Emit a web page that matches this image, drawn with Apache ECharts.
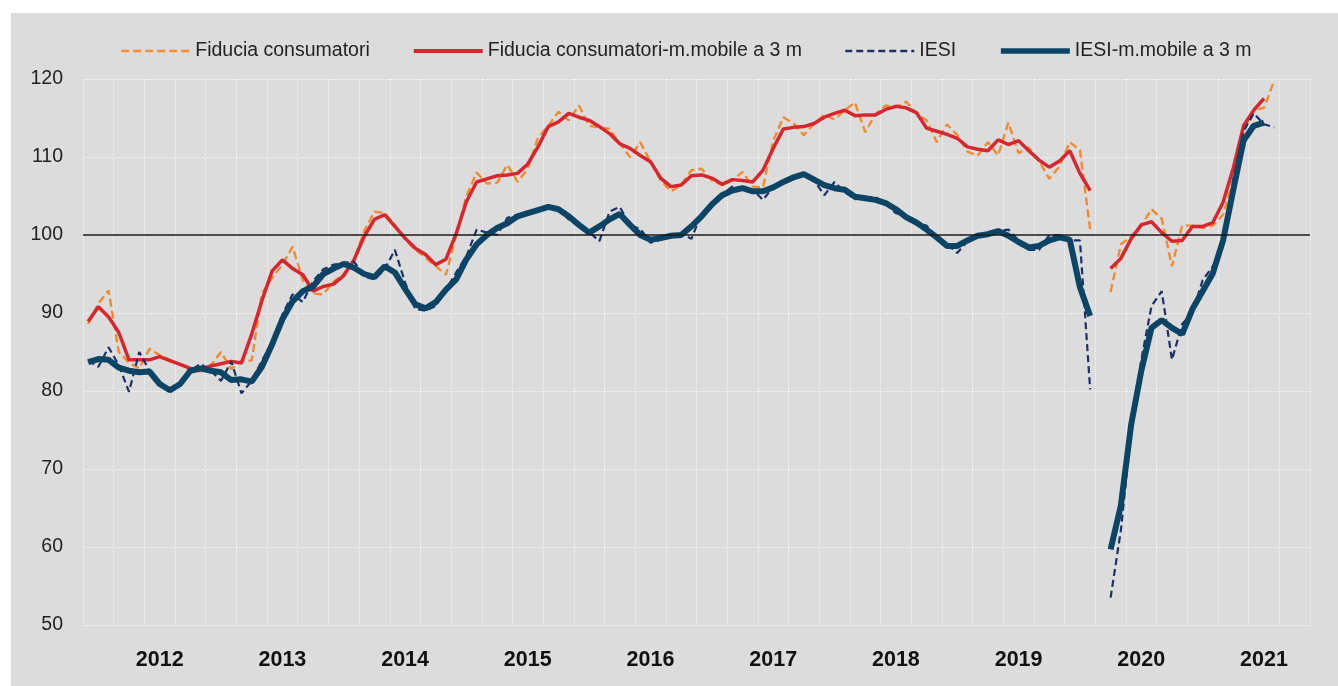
<!DOCTYPE html>
<html>
<head>
<meta charset="utf-8">
<script src="https://cdn.jsdelivr.net/npm/echarts@6/dist/echarts.min.js"></script>
<style>
  html, body { margin: 0; padding: 0; background: #ffffff; }
  #chart { position: absolute; left: 11px; top: 13px; width: 1327px; height: 673px; }
</style>
</head>
<body>
<div id="chart"></div>
<script>
// months Jan 2012 .. Dec 2021, series run to Sep 2021; Apr 2020 not surveyed (null)
const years = ['2012', '2013', '2014', '2015', '2016', '2017', '2018', '2019', '2020', '2021']
const months = ['01', '02', '03', '04', '05', '06', '07', '08', '09', '10', '11', '12']
const categories = []
years.forEach(y => months.forEach(m => categories.push(y + '-' + m)))

const fiducia = [
  88.6, 91.2, 92.9, 85.0, 83.6, 82.9, 85.4, 84.6, 84.0, 83.4, 82.7, 82.5,
  83.3, 85.0, 82.8, 83.9, 83.9, 92.5, 94.5, 96.2, 98.5, 94.2, 92.5, 92.4,
  94.0, 95.0, 96.8, 100.5, 103.0, 102.8, 101.3, 99.4, 98.1, 97.1, 96.0, 94.9,
  100.0, 105.0, 108.0, 106.6, 106.7, 109.0, 106.8, 108.5, 112.5, 114.0, 115.8, 114.7,
  116.6, 114.0, 113.8, 113.6, 111.7, 110.0, 111.9, 109.4, 107.0, 105.6, 106.4, 108.3,
  108.5, 107.0, 106.4, 107.0, 108.1, 106.2, 106.1, 112.1, 115.1, 114.3, 112.8, 114.3,
  115.4, 114.8, 116.0, 117.0, 113.2, 115.5, 116.6, 116.4, 117.1, 115.6, 114.7, 111.9,
  114.2, 112.8, 110.7, 110.2, 111.9, 110.2, 114.4, 110.5, 111.2, 109.5, 107.2, 108.8,
  111.9, 110.9, 100.7, null, 92.7, 98.8, 99.8, 101.2, 103.3, 102.1, 96.0, 101.2,
  101.2, 100.9, 101.2, 102.6, 107.2, 113.5, 116.0, 116.3, 119.8
]

const fiduciaMM = [
  88.9, 90.8, 89.5, 87.5, 84.0, 84.0, 84.0, 84.4, 83.9, 83.4, 82.9, 82.8,
  83.2, 83.5, 83.8, 83.6, 87.3, 91.6, 95.4, 96.8, 95.7, 94.9, 92.8, 93.4,
  93.7, 94.8, 96.8, 99.8, 102.0, 102.6, 101.1, 99.6, 98.3, 97.5, 96.2, 96.9,
  100.2, 104.3, 106.8, 107.2, 107.6, 107.7, 107.9, 109.1, 111.3, 113.9, 114.5, 115.6,
  115.1, 114.7, 113.9, 113.0, 111.7, 111.1, 110.2, 109.4, 107.3, 106.2, 106.4, 107.6,
  107.7, 107.3, 106.5, 107.1, 107.0, 106.8, 108.3, 111.1, 113.6, 113.8, 113.9, 114.3,
  115.1, 115.6, 116.0, 115.3, 115.4, 115.4, 116.1, 116.5, 116.3, 115.7, 113.7, 113.3,
  112.9, 112.4, 111.3, 111.0, 110.8, 112.2, 111.6, 112.1, 110.8, 109.6, 108.7, 109.5,
  110.8, 107.9, 105.7, null, 95.7, 97.0, 99.5, 101.3, 101.7, 100.3, 99.2, 99.3,
  101.1, 101.1, 101.6, 104.2, 108.6, 114.0, 116.0, 117.5
]

const iesi = [
  83.9, 83.1, 85.6, 83.3, 79.9, 85.0, 82.6, 80.9, 79.8, 80.9, 82.6, 83.5,
  82.6, 81.3, 83.8, 79.7, 81.3, 83.9, 86.2, 89.8, 92.4, 91.4, 94.1, 95.6,
  96.2, 96.4, 96.6, 94.7, 94.3, 95.6, 98.1, 93.9, 90.5, 90.3, 90.9, 93.0,
  95.2, 97.3, 100.7, 100.3, 100.0, 102.2, 102.6, 102.6, 103.4, 103.6, 103.4, 102.0,
  101.2, 100.4, 99.2, 103.0, 103.6, 101.2, 100.8, 99.0, 99.4, 99.8, 100.2, 99.5,
  102.8, 104.0, 105.2, 106.2, 106.0, 105.8, 104.5, 106.2, 106.8, 107.5, 107.9, 107.0,
  105.1, 106.8, 105.5, 104.6, 104.8, 104.9, 104.0, 102.8, 102.5, 101.5, 101.2, 99.7,
  98.8, 97.7, 99.2, 99.9, 100.2, 100.5, 100.7, 99.3, 98.1, 98.1, 100.0, 100.0,
  99.3, 99.3, 80.2, null, 53.5, 62.1, 74.7, 84.0, 90.9, 92.8, 84.0, 88.6,
  90.0, 94.2, 96.0, 98.8, 107.2, 113.3, 115.6, 114.2, 113.8
]

const iesiMM = [
  83.7, 84.1, 84.0, 83.0, 82.6, 82.4, 82.5, 80.9, 80.1, 80.9, 82.6, 82.9,
  82.6, 82.4, 81.4, 81.5, 81.2, 83.1, 86.0, 89.2, 91.5, 92.8, 93.4, 95.0,
  95.7, 96.3, 95.8, 95.0, 94.6, 96.0, 95.2, 93.1, 91.1, 90.6, 91.4, 93.0,
  94.3, 96.9, 98.8, 100.0, 100.9, 101.5, 102.4, 102.8, 103.2, 103.6, 103.3, 102.4,
  101.3, 100.3, 101.1, 102.0, 102.7, 101.3, 100.0, 99.4, 99.6, 99.9, 100.0, 101.1,
  102.4, 103.9, 105.1, 105.7, 106.0, 105.6, 105.6, 106.1, 106.8, 107.4, 107.8, 107.1,
  106.4, 106.0, 105.8, 104.9, 104.7, 104.5, 104.1, 103.3, 102.3, 101.6, 100.7, 99.7,
  98.6, 98.6, 99.3, 99.9, 100.1, 100.5, 99.9, 99.1, 98.4, 98.6, 99.3, 99.7,
  99.4, 93.3, 89.6, null, 59.7, 65.3, 75.6, 82.6, 88.1, 89.1, 88.1, 87.3,
  90.5, 92.8, 95.1, 99.3, 105.8, 112.1, 114.0, 114.4
]

const yTicks = {min: 50, max: 120, interval: 10}

const font = '"Liberation Sans", Arial, sans-serif'
const gridWhite = {show: true, lineStyle: {color: '#f7f7f7', width: 1, type: 'dotted'}}

const chart = echarts.init(document.getElementById('chart'), null, {renderer: 'canvas'})

chart.setOption({
  backgroundColor: '#dcdcdc',
  animation: false,
  legend: {
    top: 23,
    left: 104,
    itemWidth: 69,
    itemHeight: 14,
    itemGap: 42,
    itemStyle: {opacity: 0},
    textStyle: {fontFamily: font, fontSize: 19.5, color: '#222'},
    data: [
      {name: 'Fiducia consumatori', lineStyle: {width: 2.5}},
      {name: 'Fiducia consumatori-m.mobile a 3 m', lineStyle: {width: 4}},
      {name: 'IESI', lineStyle: {width: 2.5}},
      {name: 'IESI-m.mobile a 3 m', lineStyle: {width: 5.5}}
    ]
  },
  grid: {left: 72, top: 66, right: 28, bottom: 61, containLabel: false},
  xAxis: {
    type: 'category',
    data: categories,
    boundaryGap: true,
    axisLine: {show: false},
    axisTick: {show: false},
    splitLine: Object.assign({interval: 2}, gridWhite),
    axisLabel: {
      interval: (index) => index % 12 === 7,
      formatter: (value) => value.slice(0, 4),
      fontFamily: font,
      fontSize: 21.5,
      fontWeight: 'bold',
      color: '#111',
      margin: 24
    }
  },
  yAxis: {
    type: 'value',
    min: yTicks.min,
    max: yTicks.max,
    interval: yTicks.interval,
    axisLine: {show: false},
    axisTick: {show: false},
    splitLine: gridWhite,
    axisLabel: {fontFamily: font, fontSize: 19.5, color: '#222', margin: 20}
  },
  series: [
    {
      name: 'Fiducia consumatori',
      type: 'line',
      data: fiducia,
      symbol: 'none',
      color: '#f28a30',
      lineStyle: {color: '#f28a30', width: 2.4, type: [8, 4]},
      markLine: {
        silent: true,
        symbol: 'none',
        label: {show: false},
        lineStyle: {color: '#1a1a1a', width: 1.5, type: 'solid'},
        data: [{yAxis: 100}]
      }
    },
    {
      name: 'Fiducia consumatori-m.mobile a 3 m',
      type: 'line',
      data: fiduciaMM,
      symbol: 'none',
      color: '#d7262e',
      lineStyle: {color: '#d7262e', width: 3.5}
    },
    {
      name: 'IESI',
      type: 'line',
      data: iesi,
      symbol: 'none',
      color: '#1c2f68',
      lineStyle: {color: '#1c2f68', width: 2.2, type: [7, 4]}
    },
    {
      name: 'IESI-m.mobile a 3 m',
      type: 'line',
      data: iesiMM,
      symbol: 'none',
      color: '#0c4466',
      lineStyle: {color: '#0c4466', width: 6}
    }
  ]
})
</script>
</body>
</html>
